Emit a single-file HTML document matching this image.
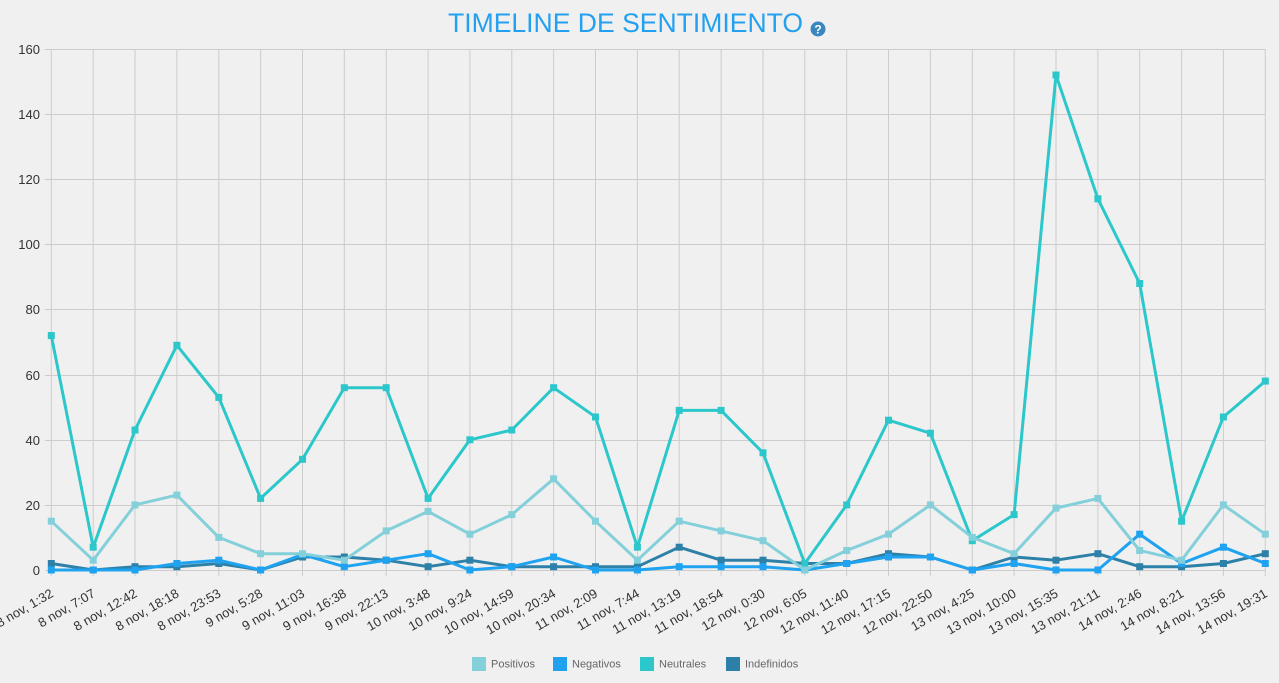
<!DOCTYPE html>
<html><head><meta charset="utf-8"><style>
html,body{margin:0;padding:0;background:#f0f0f0;}
svg{display:block;font-family:"Liberation Sans",sans-serif;}
</style></head><body>
<svg width="1279" height="683" viewBox="0 0 1279 683" xmlns="http://www.w3.org/2000/svg">
<defs>
<marker id="mP" markerWidth="8" markerHeight="8" refX="4" refY="4" markerUnits="userSpaceOnUse"><rect x="0.5" y="0.5" width="7" height="7" fill="#84d0da"/></marker>
<marker id="mG" markerWidth="8" markerHeight="8" refX="4" refY="4" markerUnits="userSpaceOnUse"><rect x="0.5" y="0.5" width="7" height="7" fill="#1fa3f1"/></marker>
<marker id="mN" markerWidth="8" markerHeight="8" refX="4" refY="4" markerUnits="userSpaceOnUse"><rect x="0.5" y="0.5" width="7" height="7" fill="#2cc7ca"/></marker>
<marker id="mD" markerWidth="8" markerHeight="8" refX="4" refY="4" markerUnits="userSpaceOnUse"><rect x="0.5" y="0.5" width="7" height="7" fill="#2d80a7"/></marker>
</defs>
<rect width="1279" height="683" fill="#f0f0f0"/>
<text x="448" y="32" font-size="27" fill="#24a0f0" textLength="355" lengthAdjust="spacingAndGlyphs">TIMELINE DE SENTIMIENTO</text>
<circle cx="818" cy="29" r="7.5" fill="#3a87c0"/>
<text x="818" y="33.5" font-size="12" font-weight="bold" fill="#fff" text-anchor="middle">?</text>
<g stroke="#cccccc" stroke-width="1" fill="none">
<path d="M45 49.5H1265.3M45 114.5H1265.3M45 179.5H1265.3M45 244.5H1265.3M45 309.5H1265.3M45 375.5H1265.3M45 440.5H1265.3M45 505.5H1265.3M45 570.5H1265.3"/>
<path d="M51.3 49V576M93.2 49V576M135 49V576M176.9 49V576M218.8 49V576M260.6 49V576M302.5 49V576M344.3 49V576M386.2 49V576M428.1 49V576M469.9 49V576M511.8 49V576M553.6 49V576M595.5 49V576M637.4 49V576M679.2 49V576M721.1 49V576M763 49V576M804.8 49V576M846.7 49V576M888.5 49V576M930.4 49V576M972.3 49V576M1014.1 49V576M1056 49V576M1097.9 49V576M1139.7 49V576M1181.6 49V576M1223.4 49V576M1265.3 49V576"/>
</g>
<g font-size="13" fill="#333" text-anchor="end">
<text x="40" y="54">160</text>
<text x="40" y="119">140</text>
<text x="40" y="184">120</text>
<text x="40" y="249">100</text>
<text x="40" y="314">80</text>
<text x="40" y="380">60</text>
<text x="40" y="445">40</text>
<text x="40" y="510">20</text>
<text x="40" y="575">0</text>
</g>
<g font-size="13" fill="#333" text-anchor="end">
<text transform="translate(54.3 596) rotate(-30)">8 nov, 1:32</text>
<text transform="translate(96.2 596) rotate(-30)">8 nov, 7:07</text>
<text transform="translate(138 596) rotate(-30)">8 nov, 12:42</text>
<text transform="translate(179.9 596) rotate(-30)">8 nov, 18:18</text>
<text transform="translate(221.8 596) rotate(-30)">8 nov, 23:53</text>
<text transform="translate(263.6 596) rotate(-30)">9 nov, 5:28</text>
<text transform="translate(305.5 596) rotate(-30)">9 nov, 11:03</text>
<text transform="translate(347.3 596) rotate(-30)">9 nov, 16:38</text>
<text transform="translate(389.2 596) rotate(-30)">9 nov, 22:13</text>
<text transform="translate(431.1 596) rotate(-30)">10 nov, 3:48</text>
<text transform="translate(472.9 596) rotate(-30)">10 nov, 9:24</text>
<text transform="translate(514.8 596) rotate(-30)">10 nov, 14:59</text>
<text transform="translate(556.6 596) rotate(-30)">10 nov, 20:34</text>
<text transform="translate(598.5 596) rotate(-30)">11 nov, 2:09</text>
<text transform="translate(640.4 596) rotate(-30)">11 nov, 7:44</text>
<text transform="translate(682.2 596) rotate(-30)">11 nov, 13:19</text>
<text transform="translate(724.1 596) rotate(-30)">11 nov, 18:54</text>
<text transform="translate(766 596) rotate(-30)">12 nov, 0:30</text>
<text transform="translate(807.8 596) rotate(-30)">12 nov, 6:05</text>
<text transform="translate(849.7 596) rotate(-30)">12 nov, 11:40</text>
<text transform="translate(891.5 596) rotate(-30)">12 nov, 17:15</text>
<text transform="translate(933.4 596) rotate(-30)">12 nov, 22:50</text>
<text transform="translate(975.3 596) rotate(-30)">13 nov, 4:25</text>
<text transform="translate(1017.1 596) rotate(-30)">13 nov, 10:00</text>
<text transform="translate(1059 596) rotate(-30)">13 nov, 15:35</text>
<text transform="translate(1100.9 596) rotate(-30)">13 nov, 21:11</text>
<text transform="translate(1142.7 596) rotate(-30)">14 nov, 2:46</text>
<text transform="translate(1184.6 596) rotate(-30)">14 nov, 8:21</text>
<text transform="translate(1226.4 596) rotate(-30)">14 nov, 13:56</text>
<text transform="translate(1268.3 596) rotate(-30)">14 nov, 19:31</text>
</g>
<g fill="none" stroke-width="3" stroke-linejoin="round">
<polyline stroke="#2d80a7" marker-start="url(#mD)" marker-mid="url(#mD)" marker-end="url(#mD)" points="51.3,563.5 93.2,570 135,566.7 176.9,566.7 218.8,563.5 260.6,570 302.5,557 344.3,557 386.2,560.2 428.1,566.7 469.9,560.2 511.8,566.7 553.6,566.7 595.5,566.7 637.4,566.7 679.2,547.2 721.1,560.2 763,560.2 804.8,563.5 846.7,563.5 888.5,553.7 930.4,557 972.3,570 1014.1,557 1056,560.2 1097.9,553.7 1139.7,566.7 1181.6,566.7 1223.4,563.5 1265.3,553.7"/>
<polyline stroke="#2cc7ca" marker-start="url(#mN)" marker-mid="url(#mN)" marker-end="url(#mN)" points="51.3,335.55 93.2,547.2 135,430 176.9,345.3 218.8,397.4 260.6,498.4 302.5,459.3 344.3,387.7 386.2,387.7 428.1,498.4 469.9,439.8 511.8,430 553.6,387.7 595.5,416.95 637.4,547.2 679.2,410.4 721.1,410.4 763,452.8 804.8,563.5 846.7,504.9 888.5,420.2 930.4,433.2 972.3,540.7 1014.1,514.6 1056,75 1097.9,198.8 1139.7,283.5 1181.6,521.2 1223.4,417 1265.3,381.1"/>
<polyline stroke="#1fa3f1" marker-start="url(#mG)" marker-mid="url(#mG)" marker-end="url(#mG)" points="51.3,570 93.2,570 135,570 176.9,563.5 218.8,560.2 260.6,570 302.5,554.5 344.3,566.7 386.2,560.2 428.1,553.7 469.9,570 511.8,566.7 553.6,557 595.5,570 637.4,570 679.2,566.7 721.1,566.7 763,566.7 804.8,570 846.7,563.5 888.5,557 930.4,557 972.3,570 1014.1,563.5 1056,570 1097.9,570 1139.7,534.2 1181.6,563.5 1223.4,547.2 1265.3,563.5"/>
<polyline stroke="#84d0da" marker-start="url(#mP)" marker-mid="url(#mP)" marker-end="url(#mP)" points="51.3,521.2 93.2,560.2 135,504.9 176.9,495.1 218.8,537.4 260.6,553.7 302.5,553.7 344.3,560.2 386.2,530.9 428.1,511.4 469.9,534.2 511.8,514.6 553.6,478.8 595.5,521.2 637.4,560.2 679.2,521.2 721.1,530.9 763,540.7 804.8,570 846.7,550.5 888.5,534.2 930.4,504.9 972.3,537.4 1014.1,553.7 1056,508.1 1097.9,498.4 1139.7,550.5 1181.6,560.2 1223.4,504.9 1265.3,534.2"/>
</g>
<g font-size="11" fill="#666">
<rect x="472" y="657" width="14" height="14" fill="#84d0da"/>
<text x="491" y="667.5">Positivos</text>
<rect x="553" y="657" width="14" height="14" fill="#1fa3f1"/>
<text x="572" y="667.5">Negativos</text>
<rect x="640" y="657" width="14" height="14" fill="#2cc7ca"/>
<text x="659" y="667.5">Neutrales</text>
<rect x="726" y="657" width="14" height="14" fill="#2d80a7"/>
<text x="745" y="667.5">Indefinidos</text>
</g>
</svg>
</body></html>
